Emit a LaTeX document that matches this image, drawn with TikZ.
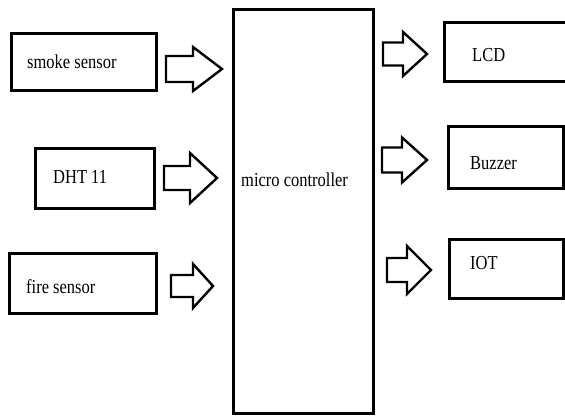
\documentclass[tikz,border=0pt]{standalone}
\usepackage{fontspec}
\setmainfont{Liberation Serif}
\newcommand{\tall}[1]{\scalebox{1}[1.2]{#1}}
\begin{document}
\begin{tikzpicture}[x=1pt,y=-1pt,
  box/.style={draw=black,line width=3.2pt,fill=white,rectangle,inner sep=0pt},
  lbl/.style={anchor=west,inner sep=0pt,font=\fontsize{16.5}{18}\selectfont},
  barrow/.style={draw=black,line width=2.4pt,fill=white,line join=miter}]
\useasboundingbox (0,0) rectangle (565,418);
\begin{scope}
\clip (0,0) rectangle (565,418);
% boxes (centre, width, height in px)
\node[box,minimum width=145pt,minimum height=57pt] (smoke) at (84,62) {};
\node[box,minimum width=119pt,minimum height=60pt] (dht) at (95,178.5) {};
\node[box,minimum width=147pt,minimum height=60pt] (fire) at (83,283.5) {};
\node[box,minimum width=140pt,minimum height=404pt] (mc) at (303.5,211.5) {};
\node[box,minimum width=130pt,minimum height=59pt] (lcd) at (509.5,52) {};
\node[box,minimum width=115pt,minimum height=62pt] (buzzer) at (506,157.5) {};
\node[box,minimum width=114pt,minimum height=59pt] (iot) at (506.5,269) {};
% labels
\node[lbl] (smoket) at (27,62) {\tall{smoke sensor}};
\node[lbl] (dhtt) at (53,177) {\tall{DHT 11}};
\node[lbl] (firet) at (26,287) {\tall{fire sensor}};
\node[lbl] (mct) at (241,180) {\tall{micro controller}};
\node[lbl] (lcdt) at (472,55) {\tall{LCD}};
\node[lbl] (buzzert) at (470,163) {\tall{Buzzer}};
\node[lbl] (iott) at (470,263) {\tall{IOT}};
% block arrows
\newcommand{\blockarrow}[6]{% x0, xbase, xtip, yc, shaft half, head half
  \draw[barrow] (#1,#4-#5) -- (#2,#4-#5) -- (#2,#4-#6) -- (#3,#4) -- (#2,#4+#6) -- (#2,#4+#5) -- (#1,#4+#5) -- cycle;}
\blockarrow{166}{193}{222}{69}{13}{22}
\blockarrow{164}{190}{217}{178}{12}{25}
\blockarrow{171}{193}{213}{286}{11}{22}
\blockarrow{383}{403}{427}{54}{11.5}{22}
\blockarrow{382}{402}{427}{160}{12.5}{22.5}
\blockarrow{387}{407}{431}{270}{12}{24}
\end{scope}
\end{tikzpicture}
\end{document}
